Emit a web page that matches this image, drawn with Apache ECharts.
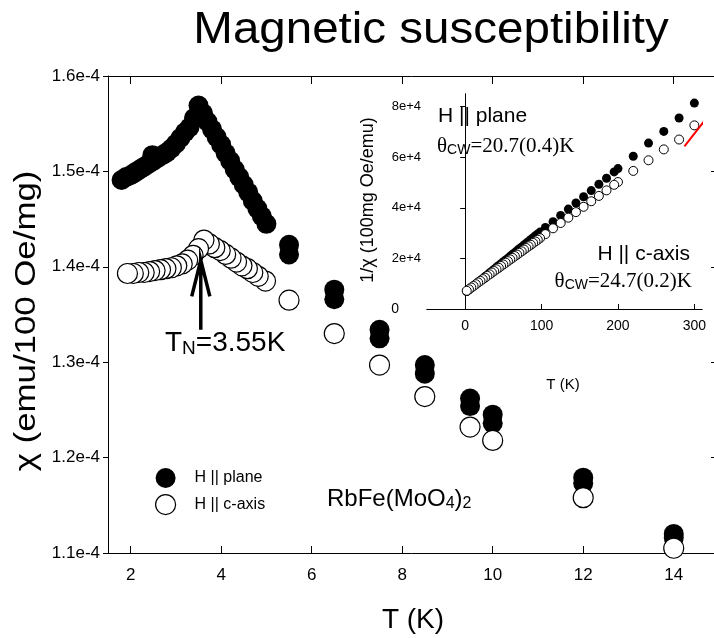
<!DOCTYPE html>
<html>
<head>
<meta charset="utf-8">
<script src="https://cdn.jsdelivr.net/npm/echarts@6.0.0/dist/echarts.min.js"></script>
<style>
  html, body { margin: 0; padding: 0; background: #fff; }
  #chart { width: 714px; height: 638px; }
</style>
</head>
<body>
<div id="chart"></div>
<script>
// ---- Main panel: chi(T) of RbFe(MoO4)2, two field orientations ----
const T_PLANE = [1.8, 1.9, 2.0, 2.1, 2.2, 2.3, 2.4, 2.48, 2.5, 2.6, 2.7, 2.8, 2.9, 3.0, 3.1, 3.2, 3.3, 3.4, 3.5,
  3.6, 3.7, 3.8, 3.9, 4.0, 4.1, 4.2, 4.3, 4.4, 4.5, 4.6, 4.7, 4.8, 4.9, 5.0,
  5.5, 5.5, 6.5, 6.5, 7.5, 7.5, 8.5, 8.5, 9.5, 9.5, 10, 10, 12, 12, 14, 14];
const CHI_PLANE = [1.491e-4, 1.494e-4, 1.496e-4, 1.499e-4, 1.502e-4, 1.505e-4, 1.508e-4, 1.517e-4, 1.511e-4, 1.514e-4,
  1.517e-4, 1.520e-4, 1.524e-4, 1.529e-4, 1.535e-4, 1.541e-4, 1.546e-4, 1.556e-4, 1.569e-4,
  1.561e-4, 1.552e-4, 1.544e-4, 1.536e-4, 1.528e-4, 1.519e-4, 1.511e-4, 1.502e-4, 1.494e-4, 1.486e-4,
  1.478e-4, 1.469e-4, 1.461e-4, 1.453e-4, 1.445e-4,
  1.423e-4, 1.413e-4, 1.376e-4, 1.366e-4, 1.334e-4, 1.325e-4, 1.297e-4, 1.288e-4, 1.262e-4, 1.254e-4,
  1.245e-4, 1.236e-4, 1.179e-4, 1.173e-4, 1.120e-4, 1.116e-4];

const T_CAXIS = [1.93, 2.06, 2.18, 2.30, 2.42, 2.54, 2.66, 2.78, 2.90, 3.02, 3.14, 3.26, 3.38, 3.50, 3.62,
  3.74, 3.86, 3.98, 4.10, 4.22, 4.34, 4.46, 4.58, 4.70, 4.82, 4.98,
  5.5, 6.5, 7.5, 8.5, 9.5, 10, 12, 14];
const CHI_CAXIS = [1.393e-4, 1.393e-4, 1.394e-4, 1.394e-4, 1.395e-4, 1.396e-4, 1.397e-4, 1.398e-4, 1.399e-4,
  1.401e-4, 1.403e-4, 1.407e-4, 1.412e-4, 1.419e-4, 1.428e-4,
  1.424e-4, 1.420e-4, 1.417e-4, 1.413e-4, 1.409e-4, 1.405e-4, 1.401e-4, 1.398e-4, 1.394e-4, 1.390e-4, 1.385e-4,
  1.365e-4, 1.330e-4, 1.297e-4, 1.264e-4, 1.232e-4, 1.218e-4, 1.158e-4, 1.105e-4];

const MAIN_X_TICKS = [2, 4, 6, 8, 10, 12, 14];

// Neel temperature arrow (shaft + open head)
const ARROW_T = [3.35, 3.55, 3.75, 3.55, 3.55];
const ARROW_CHI = [1.369e-4, 1.407e-4, 1.369e-4, 1.407e-4, 1.334e-4];

// ---- Inset: inverse susceptibility vs T ----
const INV_T_PLANE = [2, 5, 8, 11, 14, 17, 20, 23, 26, 29, 32, 35, 38, 41, 44, 47, 50, 53, 56, 59, 62, 65, 68, 71, 74,
  77, 80, 83, 86, 89, 92, 95, 98, 105, 115, 125, 135, 145, 155, 165, 175, 185, 195, 200, 220, 240, 260, 280, 300];
const INV_PLANE = [6900, 7600, 8400, 9100, 9800, 10600, 11300, 12000, 12800, 13500, 14300, 15000, 15700, 16500,
  17200, 17900, 18700, 19400, 20100, 20900, 21600, 22300, 23100, 23800, 24500, 25300, 26000, 26700, 27500,
  28200, 29000, 29700, 30400, 32200, 34500, 37000, 39500, 41900, 44400, 46800, 49300, 51700, 54200, 55500,
  60400, 65600, 70200, 75500, 81400];

const INV_T_CAXIS = [2, 5, 8, 11, 14, 17, 20, 23, 26, 29, 32, 35, 38, 41, 44, 47, 50, 53, 56, 59, 62, 65, 68, 71, 74,
  77, 80, 83, 86, 89, 92, 95, 98, 105, 115, 125, 135, 145, 155, 165, 175, 185, 195, 200, 220, 240, 260, 280, 300];
const INV_CAXIS = [7200, 7800, 8500, 9100, 9800, 10500, 11100, 11800, 12400, 13100, 13700, 14400, 15000, 15700,
  16300, 17000, 17600, 18300, 18900, 19600, 20200, 20900, 21500, 22200, 22800, 23500, 24100, 24800, 25400,
  26100, 26700, 27400, 28000, 29600, 31900, 34000, 36100, 38300, 40400, 42600, 44700, 46900, 49100, 50200,
  54600, 58800, 63100, 67000, 72600];

const FIT_T = [287, 326];
const FIT_INV = [64300, 79300];

const INSET_X_TICKS = [0, 100, 200, 300];
const INSET_Y_TICKS = [0, 20000, 40000, 60000, 80000];

// ---------------------------------------------------------------
const SANS = '"Liberation Sans", Arial, sans-serif';
const SERIF = '"Liberation Serif", "Times New Roman", serif';
const pairs = (xs, ys) => xs.map((x, i) => [x, ys[i]]);
// Cooling-run order: plot from high T to low T so the low-T symbols sit on top
const coolingOrder = (xs, ys) => pairs(xs, ys).reverse();
const circlePath = 'path://M10,0A10,10,0,1,1,10,20A10,10,0,1,1,10,0Z';

const chart = echarts.init(document.getElementById('chart'), null, { renderer: 'canvas' });

const axisLine = { show: true, lineStyle: { color: '#000', width: 1 } };

const option = {
  backgroundColor: '#fff',
  animation: false,
  grid: [
    { left: 108, top: 76, width: 611, height: 477, outerBoundsMode: 'none' },
    { left: 427, top: 94, width: 275, height: 215, outerBoundsMode: 'none' }
  ],
  xAxis: [
    {
      gridIndex: 0, type: 'value', min: 1.5, max: 15, position: 'bottom',
      axisLine: axisLine,
      axisTick: { inside: true, length: 7, customValues: MAIN_X_TICKS, lineStyle: { color: '#000' } },
      axisLabel: { customValues: MAIN_X_TICKS, fontSize: 17, fontFamily: SANS, color: '#000', margin: 14 },
      splitLine: { show: false }
    },
    {
      gridIndex: 0, type: 'value', min: 1.5, max: 15, position: 'top',
      axisLine: axisLine,
      axisTick: { inside: true, length: 8, customValues: MAIN_X_TICKS, lineStyle: { color: '#000' } },
      axisLabel: { show: false },
      splitLine: { show: false }
    },
    {
      gridIndex: 1, type: 'value', min: -50, max: 310, position: 'bottom',
      axisLine: axisLine,
      axisTick: { inside: true, length: 5, customValues: INSET_X_TICKS, lineStyle: { color: '#000' } },
      axisLabel: { customValues: INSET_X_TICKS, fontSize: 14, fontFamily: SANS, color: '#000', margin: 10 },
      splitLine: { show: false }
    },
    {
      gridIndex: 1, type: 'value', min: -50, max: 310, position: 'top',
      axisLine: axisLine, axisTick: { show: false }, axisLabel: { show: false }, splitLine: { show: false }
    }
  ],
  yAxis: [
    {
      gridIndex: 0, type: 'value', min: 1.1e-4, max: 1.6e-4, interval: 1e-5, position: 'left',
      axisLine: axisLine,
      axisTick: { inside: false, length: 5, lineStyle: { color: '#000' } },
      axisLabel: {
        fontSize: 17, fontFamily: SANS, color: '#000', margin: 8,
        formatter: v => (v * 1e4).toFixed(1) + 'e-4'
      },
      splitLine: { show: false }
    },
    {
      gridIndex: 0, type: 'value', min: 1.1e-4, max: 1.6e-4, interval: 1e-5, position: 'right',
      axisLine: axisLine,
      axisTick: { inside: true, length: 8, lineStyle: { color: '#000' } },
      axisLabel: { show: false },
      splitLine: { show: false }
    },
    {
      gridIndex: 1, type: 'value', min: 0, max: 85000, position: 'left',
      axisLine: axisLine,
      axisTick: { inside: false, length: 5, customValues: INSET_Y_TICKS, lineStyle: { color: '#000' } },
      axisLabel: {
        customValues: INSET_Y_TICKS, fontSize: 13, fontFamily: SANS, color: '#000', margin: 6,
        formatter: v => (v === 0 ? '{z|0}' : (v / 1e4) + 'e+4'),
        rich: { z: { fontSize: 14, fontFamily: SANS, color: '#000', padding: [0, 22, 0, 0] } }
      },
      splitLine: { show: false }
    },
    {
      gridIndex: 1, type: 'value', min: 0, max: 85000, position: 'right',
      axisLine: axisLine, axisTick: { show: false }, axisLabel: { show: false }, splitLine: { show: false }
    }
  ],
  legend: {
    left: 150, top: 463, orient: 'vertical', itemGap: 6, itemWidth: 20, itemHeight: 22,
    icon: circlePath, selectedMode: false,
    textStyle: { fontSize: 16, fontFamily: SANS, color: '#000', padding: [0, 0, 0, 14] },
    data: [
      { name: 'H || plane', itemStyle: { color: '#000' } },
      { name: 'H || c-axis', itemStyle: { color: '#fff', borderColor: '#000', borderWidth: 1.2 } }
    ]
  },
  series: [
    {
      name: 'H || plane', type: 'scatter', xAxisIndex: 0, yAxisIndex: 0,
      symbol: 'circle', symbolSize: 20, itemStyle: { color: '#000', opacity: 1 },
      data: coolingOrder(T_PLANE, CHI_PLANE), z: 2
    },
    {
      name: 'H || c-axis', type: 'scatter', xAxisIndex: 0, yAxisIndex: 0,
      symbol: 'circle', symbolSize: 20,
      itemStyle: { color: '#fff', borderColor: '#000', borderWidth: 1.2, opacity: 1 },
      data: coolingOrder(T_CAXIS, CHI_CAXIS), z: 3
    },
    {
      name: 'TN arrow', type: 'line', xAxisIndex: 0, yAxisIndex: 0,
      symbol: 'none', silent: true,
      lineStyle: { color: '#000', width: 3.5, join: 'miter' },
      data: pairs(ARROW_T, ARROW_CHI), z: 4
    },
    {
      name: 'inv plane', type: 'scatter', xAxisIndex: 2, yAxisIndex: 2,
      symbol: 'circle', symbolSize: 9, itemStyle: { color: '#000', opacity: 1 },
      data: coolingOrder(INV_T_PLANE, INV_PLANE), z: 2
    },
    {
      name: 'inv c-axis', type: 'scatter', xAxisIndex: 2, yAxisIndex: 2,
      symbol: 'circle', symbolSize: 9,
      itemStyle: { color: '#fff', borderColor: '#000', borderWidth: 1, opacity: 1 },
      data: coolingOrder(INV_T_CAXIS, INV_CAXIS), z: 3
    },
    {
      name: 'fit', type: 'line', xAxisIndex: 2, yAxisIndex: 2, clip: false,
      symbol: 'none', silent: true,
      lineStyle: { color: '#ff0000', width: 2 },
      data: pairs(FIT_T, FIT_INV), z: 4
    }
  ],
  graphic: [
    {
      type: 'text', x: 431, y: 31, scaleX: 1.08,
      style: { text: 'Magnetic susceptibility', font: '44px ' + SANS, fill: '#000',
        align: 'center', textAlign: 'center', verticalAlign: 'middle', textVerticalAlign: 'middle' }
    },
    {
      type: 'text', x: 27, y: 321, rotation: Math.PI / 2, scaleX: 1.2,
      style: { text: 'χ (emu/100 Oe/mg)', font: '29px ' + SANS, fill: '#000',
        align: 'center', textAlign: 'center', verticalAlign: 'middle', textVerticalAlign: 'middle' }
    },
    {
      type: 'text', x: 413, y: 620,
      style: { text: 'T (K)', font: '28px ' + SANS, fill: '#000',
        align: 'center', textAlign: 'center', verticalAlign: 'middle', textVerticalAlign: 'middle' }
    },
    {
      type: 'text', x: 165, y: 343,
      style: {
        text: '{m|T}{s|N}{m|=3.55K}', fill: '#000',
        align: 'left', textAlign: 'left', verticalAlign: 'middle', textVerticalAlign: 'middle',
        rich: {
          m: { fontSize: 28, fontFamily: SANS, lineHeight: 30, verticalAlign: 'middle', fill: '#000' },
          s: { fontSize: 19, fontFamily: SANS, lineHeight: 6, verticalAlign: 'bottom', fill: '#000' }
        }
      }
    },
    {
      type: 'text', x: 327, y: 499,
      style: {
        text: '{m|RbFe(MoO}{s|4}{m|)}{s|2}', fill: '#000',
        align: 'left', textAlign: 'left', verticalAlign: 'middle', textVerticalAlign: 'middle',
        rich: {
          m: { fontSize: 24, fontFamily: SANS, lineHeight: 26, verticalAlign: 'middle', fill: '#000' },
          s: { fontSize: 16, fontFamily: SANS, lineHeight: 4, verticalAlign: 'bottom', fill: '#000' }
        }
      }
    },
    {
      type: 'text', x: 368, y: 200, rotation: Math.PI / 2,
      style: { text: '1/χ (100mg Oe/emu)', font: '18px ' + SANS, fill: '#000',
        align: 'center', textAlign: 'center', verticalAlign: 'middle', textVerticalAlign: 'middle' }
    },
    {
      type: 'text', x: 563, y: 385,
      style: { text: 'T (K)', font: '15px ' + SANS, fill: '#000',
        align: 'center', textAlign: 'center', verticalAlign: 'middle', textVerticalAlign: 'middle' }
    },
    {
      type: 'text', x: 438, y: 116,
      style: { text: 'H || plane', font: '21px ' + SANS, fill: '#000',
        align: 'left', textAlign: 'left', verticalAlign: 'middle', textVerticalAlign: 'middle' }
    },
    {
      type: 'text', x: 437, y: 146,
      style: {
        text: '{t|θ}{s|CW}{t|=20.7(0.4)K}', fill: '#000',
        align: 'left', textAlign: 'left', verticalAlign: 'middle', textVerticalAlign: 'middle',
        rich: {
          t: { fontSize: 21, fontFamily: SERIF, lineHeight: 22, verticalAlign: 'middle', fill: '#000' },
          s: { fontSize: 14, fontFamily: SANS, lineHeight: 8, verticalAlign: 'bottom', fill: '#000' }
        }
      }
    },
    {
      type: 'text', x: 690, y: 254,
      style: { text: 'H || c-axis', font: '21px ' + SANS, fill: '#000',
        align: 'right', textAlign: 'right', verticalAlign: 'middle', textVerticalAlign: 'middle' }
    },
    {
      type: 'text', x: 692, y: 281,
      style: {
        text: '{t|θ}{s|CW}{t|=24.7(0.2)K}', fill: '#000',
        align: 'right', textAlign: 'right', verticalAlign: 'middle', textVerticalAlign: 'middle',
        rich: {
          t: { fontSize: 21, fontFamily: SERIF, lineHeight: 22, verticalAlign: 'middle', fill: '#000' },
          s: { fontSize: 14, fontFamily: SANS, lineHeight: 8, verticalAlign: 'bottom', fill: '#000' }
        }
      }
    }
  ]
};

chart.setOption(option);
</script>
</body>
</html>
